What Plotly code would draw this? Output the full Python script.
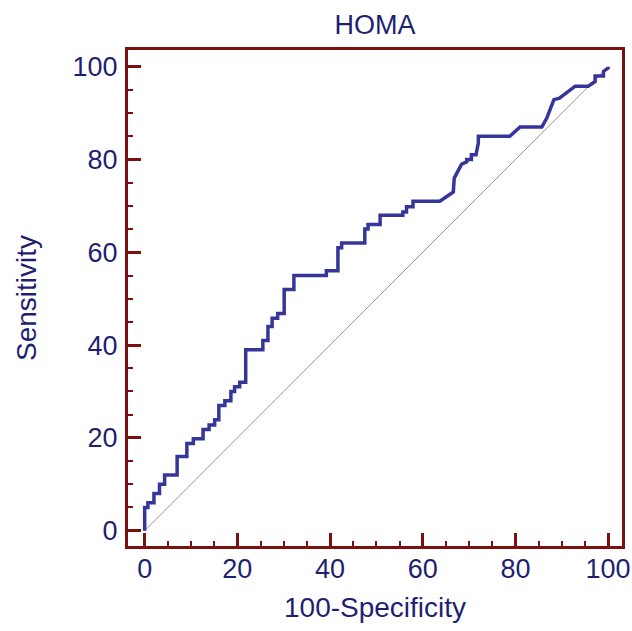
import plotly.graph_objects as go

# ROC curve points (100-Specificity, Sensitivity)
fpr = [0, 0, 0.7, 0.7, 2, 2, 3.2, 3.2, 4.3, 4.3, 7, 7, 9.1, 9.1, 10.5, 10.5,
       12.6, 12.6, 13.9, 13.9, 15.1, 15.1, 16, 16, 17.3, 17.3, 18.6, 18.6,
       19.4, 19.4, 20.5, 20.5, 21.8, 21.8, 25.5, 25.5, 26.6, 26.6, 27.5, 27.5,
       28.7, 28.7, 30.1, 30.1, 32.2, 32.2, 39.2, 39.2, 41.7, 41.7, 42.5, 42.5,
       47.5, 47.5, 48.2, 48.2, 50.8, 50.8, 55.7, 55.7, 56.5, 56.5, 57.9, 57.9,
       63.7, 66.6, 66.8, 68.4, 69.5, 69.5, 70.5, 70.5, 71.5, 72, 72, 78.8, 81,
       85.7, 86.8, 88.3, 89.5, 92.9, 95.7, 97.2, 97.2, 99, 99, 100, 100]
tpr = [0, 5, 5, 6, 6, 8, 8, 10, 10, 12, 12, 16, 16, 18.8, 18.8, 19.8,
       19.8, 21.8, 21.8, 22.8, 22.8, 23.9, 23.9, 27, 27, 28, 28, 30,
       30, 31, 31, 32, 32, 39, 39, 41, 41, 44, 44, 45.8,
       45.8, 46.8, 46.8, 52, 52, 55, 55, 56, 56, 61, 61, 62,
       62, 65, 65, 66, 66, 68, 68, 68.7, 68.7, 69.8, 69.8, 71,
       71, 73, 76, 79, 79.5, 80, 80, 81, 81, 83.6, 85, 85, 87,
       87, 89, 92.9, 93.2, 95.8, 95.8, 96.8, 98, 98, 99, 99.7, 100]

diag_x = [0, 100]
diag_y = [0, 100]

chart_title = "HOMA"
x_title = "100-Specificity"
y_title = "Sensitivity"
tick_vals = [0, 20, 40, 60, 80, 100]

navy = "#1f1f72"
maroon = "#7a1010"
curve = "#35359a"
font_family = "Liberation Sans, Arial, sans-serif"

fig = go.Figure()
fig.add_trace(go.Scatter(x=diag_x, y=diag_y, mode="lines",
                         line=dict(color="#a89088", width=1),
                         hoverinfo="skip", showlegend=False))
fig.add_trace(go.Scatter(x=fpr, y=tpr, mode="lines",
                         line=dict(color=curve, width=3.5),
                         showlegend=False))

axis_common = dict(
    showline=True, mirror=True, linecolor=maroon, linewidth=3,
    showgrid=False, zeroline=False, automargin=False,
    ticks="inside", ticklen=13, tickwidth=3, tickcolor=maroon,
    tickvals=tick_vals,
    tickfont=dict(family=font_family, size=27, color=navy),
    minor=dict(ticks="inside", ticklen=5, tickwidth=2, tickcolor=maroon,
               dtick=5, tick0=0, showgrid=False),
)

fig.update_xaxes(range=[-3.6, 103.0], ticklabelstandoff=-3, **axis_common)
fig.update_yaxes(range=[-3.3, 103.6], ticklabelstandoff=2, **axis_common)

fig.update_layout(
    width=632, height=631,
    margin=dict(l=128, r=10, t=50, b=85),
    plot_bgcolor="white", paper_bgcolor="white",
    title=dict(text=chart_title, x=0.5, xref="paper", xanchor="center",
               y=1 - 25 / 631, yref="container", yanchor="middle",
               font=dict(family=font_family, size=27, color=navy)),
    annotations=[
        dict(text=x_title, xref="paper", yref="paper", x=0.5, y=-0.123,
             xanchor="center", yanchor="middle", showarrow=False,
             font=dict(family=font_family, size=28, color=navy)),
        dict(text=y_title, xref="paper", yref="paper", x=-0.2065, y=0.5,
             xanchor="center", yanchor="middle", textangle=-90, showarrow=False,
             font=dict(family=font_family, size=28, color=navy)),
    ],
)

fig.write_html("out.html")
